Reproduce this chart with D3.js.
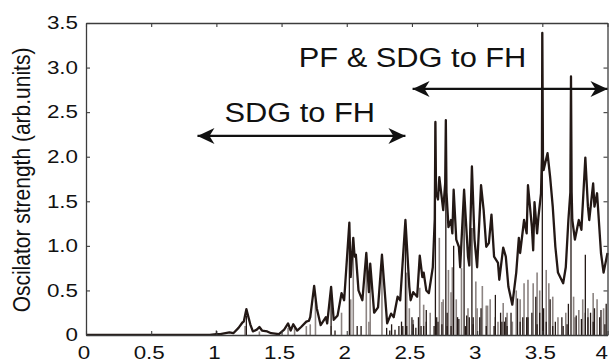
<!DOCTYPE html>
<html>
<head>
<meta charset="utf-8">
<script src="https://cdn.jsdelivr.net/npm/d3@7"></script>
<style>
  html, body { margin: 0; padding: 0; background: #fff; }
  svg { display: block; }
  text { font-family: "Liberation Sans", Arial, sans-serif; fill: #111; }
</style>
</head>
<body>
<svg id="chart" width="609" height="361"></svg>
<script>
// ---------------- data ----------------
const xTickValues = [0, 0.5, 1, 1.5, 2, 2.5, 3, 3.5, 4];
const xTickLabels = ["0", "0.5", "1", "1.5", "2", "2.5", "3", "3.5", "4"];
const yTickValues = [0, 0.5, 1, 1.5, 2, 2.5, 3, 3.5];
const yTickLabels = ["0", "0.5", "1.0", "1.5", "2.0", "2.5", "3.0", "3.5"];
const yAxisTitle = "Oscilator strength (arb.units)";
const annotationLow = "SDG to FH";
const annotationHigh = "PF & SDG to FH";

// broadened spectrum [energy, strength]
const broadened = [
  [0,0],[0.95,0],[1.0,0.01],[1.03,0.01],[1.10,0.03],[1.13,0.02],[1.17,0.08],[1.20,0.14],
  [1.21,0.15],[1.23,0.29],[1.26,0.12],[1.28,0.04],[1.31,0.06],[1.33,0.09],[1.35,0.05],
  [1.39,0.04],[1.42,0.02],[1.48,0.01],[1.52,0.06],[1.55,0.13],[1.57,0.05],[1.59,0.12],
  [1.62,0.05],[1.65,0.09],[1.69,0.15],[1.71,0.16],[1.72,0.2],[1.75,0.55],[1.77,0.3],
  [1.80,0.11],[1.84,0.2],[1.85,0.13],[1.88,0.54],[1.90,0.17],[1.93,0.22],[1.96,0.47],
  [1.98,0.39],[2.02,1.26],[2.03,0.65],[2.05,1.09],[2.06,0.88],[2.07,0.9],[2.09,0.5],
  [2.12,0.39],[2.15,0.92],[2.17,0.48],[2.18,0.8],[2.21,0.25],[2.24,0.31],[2.27,0.9],
  [2.31,0.13],[2.34,0.24],[2.36,0.2],[2.39,0.43],[2.41,0.39],[2.45,1.29],[2.48,0.54],
  [2.49,0.39],[2.51,0.48],[2.54,0.43],[2.56,0.89],[2.58,0.65],[2.59,0.7],[2.61,0.5],
  [2.63,0.47],[2.66,0.76],[2.675,1.3],[2.68,2.39],[2.685,1.6],[2.70,1.52],[2.71,1.77],
  [2.74,1.4],[2.755,1.7],[2.76,2.41],[2.765,1.6],[2.78,1.21],[2.80,1.29],[2.81,1.14],
  [2.82,1.63],[2.84,1.07],[2.86,0.99],[2.87,0.76],[2.90,1.63],[2.93,0.88],[2.94,0.78],
  [2.96,1.89],[2.98,1.07],[3.00,0.76],[3.03,1.68],[3.05,1.4],[3.07,0.99],[3.09,1.03],
  [3.11,1.35],[3.13,0.88],[3.16,0.81],[3.17,0.62],[3.20,0.98],[3.22,0.88],[3.24,0.54],
  [3.27,0.34],[3.30,0.7],[3.32,1.09],[3.33,0.92],[3.36,1.29],[3.38,1.14],[3.39,1.68],
  [3.42,1.21],[3.43,0.95],[3.44,1.49],[3.46,1.14],[3.47,1.32],[3.49,1.59],[3.497,2.0],
  [3.50,3.39],[3.505,2.0],[3.51,1.85],[3.54,2.04],[3.56,1.77],[3.58,1.44],[3.60,0.99],
  [3.62,0.7],[3.66,0.58],[3.68,0.76],[3.70,1.29],[3.715,1.6],[3.72,2.9],[3.725,1.6],
  [3.73,1.29],[3.75,1.07],[3.78,1.29],[3.80,1.18],[3.83,1.99],[3.85,1.44],[3.86,1.29],
  [3.89,1.7],[3.90,1.44],[3.92,1.59],[3.95,0.92],[3.97,0.7],[4.0,0.92]
];

// stick spectra [energy, strength]
const graySticks = [
  [1.22,0.1],[1.33,0.04],[1.55,0.08],[1.60,0.08],[1.69,0.1],[1.72,0.12],[1.76,0.39],
  [1.88,0.1],[1.96,0.25],[2.03,0.4],[2.05,1.05],[2.15,0.85],[2.17,0.15],[2.18,0.75],
  [2.27,0.85],[2.46,0.7],[2.48,0.3],[2.51,0.17],[2.56,0.53],[2.59,0.34],[2.64,0.25],
  [2.71,1.09],[2.73,0.37],[2.74,0.4],[2.78,0.73],[2.80,0.48],[2.81,0.76],[2.84,0.4],
  [2.88,0.75],[2.93,0.3],[2.99,0.6],[3.00,0.3],[3.04,0.55],[3.07,0.33],[3.08,0.33],
  [3.10,0.4],[3.16,0.15],[3.20,0.36],[3.23,0.25],[3.27,0.15],[3.30,0.5],[3.33,0.4],
  [3.36,0.58],[3.39,0.62],[3.43,0.58],[3.46,0.7],[3.48,0.5],[3.53,0.73],[3.55,0.58],
  [3.58,0.43],[3.62,0.2],[3.68,0.25],[3.74,0.43],[3.75,0.2],[3.78,0.28],[3.81,0.4],
  [3.85,0.3],[3.89,0.47],[3.92,0.4],[3.97,0.3]
];
const darkSticks = [
  [1.0,0.05],[1.23,0.22],[1.88,0.5],[1.91,0.05],[2.02,1.2],[2.08,0.1],[2.11,0.1],
  [2.33,0.05],[2.40,0.1],[2.43,0.1],[2.45,1.25],[2.50,0.2],[2.53,0.08],[2.57,0.1],
  [2.61,0.28],[2.67,0.1],[2.68,2.38],[2.70,0.15],[2.76,2.4],[2.77,0.1],[2.82,1.0],
  [2.85,0.2],[2.90,1.58],[2.91,0.1],[2.94,0.2],[2.96,1.2],[2.97,0.2],[3.03,0.3],
  [3.13,0.1],[3.14,0.45],[3.18,0.25],[3.21,0.15],[3.22,0.2],[3.31,0.41],[3.35,0.2],
  [3.38,0.2],[3.42,0.25],[3.45,0.43],[3.50,3.39],[3.51,0.3],[3.56,0.4],[3.60,0.15],
  [3.66,0.1],[3.70,0.35],[3.72,2.9],[3.83,0.9],[3.87,0.25],[3.90,0.3],[3.95,0.28],
  [3.99,0.35]
];
// short dark sticks crowding the baseline above 2.3
const baseSticks = [
  [2.306,0.08],[2.344,0.12],[2.37,0.06],[2.42,0.15],[2.46,0.1],[2.51,0.12],[2.55,0.2],
  [2.59,0.1],[2.61,0.15],[2.69,0.2],[2.73,0.12],[2.77,0.25],[2.80,0.1],[2.86,0.18],
  [2.92,0.22],[2.97,0.12],[3.02,0.2],[3.07,0.1],[3.14,0.2],[3.19,0.15],[3.23,0.1],
  [3.26,0.25],[3.33,0.15],[3.39,0.2],[3.46,0.12],[3.48,0.25],[3.53,0.15],[3.58,0.1],
  [3.65,0.2],[3.69,0.12],[3.76,0.22],[3.80,0.18],[3.83,0.25],[3.85,0.2],[3.89,0.15],
  [3.94,0.2],[3.98,0.12]
];

// ---------------- drawing ----------------
const W = 609, H = 361;
const mLeft = 86, mRight = 607.5, mTop = 23, mBottom = 335;
const svg = d3.select("#chart");

const x = d3.scaleLinear().domain([0, 4]).range([mLeft, mRight]);
const y = d3.scaleLinear().domain([0, 3.5]).range([mBottom, mTop]);

const ink = "#231815";
const grayInk = "#8c8482";
const frame = "#3c3c3c";

const defs = svg.append("defs");
defs.append("clipPath").attr("id", "plotClip")
  .append("rect").attr("x", mLeft).attr("y", 0).attr("width", W - mLeft).attr("height", mBottom);

const plot = svg.append("g").attr("clip-path", "url(#plotClip)");

plot.append("g").selectAll("line").data(graySticks).join("line")
  .attr("x1", d => x(d[0])).attr("x2", d => x(d[0]))
  .attr("y1", y(0)).attr("y2", d => y(d[1]))
  .attr("stroke", grayInk).attr("stroke-width", 1.6);

plot.append("g").selectAll("line").data(darkSticks.concat(baseSticks)).join("line")
  .attr("x1", d => x(d[0])).attr("x2", d => x(d[0]))
  .attr("y1", y(0)).attr("y2", d => y(d[1]))
  .attr("stroke", ink).attr("stroke-width", 1.3);

plot.append("path").datum(broadened)
  .attr("d", d3.line().x(d => x(d[0])).y(d => y(d[1])))
  .attr("fill", "none").attr("stroke", ink).attr("stroke-width", 2.3)
  .attr("stroke-linejoin", "round");

// axes (inward ticks, boxed)
const tickLen = 4;
const axB = svg.append("g").attr("transform", `translate(0,${mBottom})`)
  .call(d3.axisBottom(x).tickValues(xTickValues).tickSizeInner(-tickLen).tickSizeOuter(0).tickFormat(""));
const axT = svg.append("g").attr("transform", `translate(0,${mTop})`)
  .call(d3.axisTop(x).tickValues(xTickValues).tickSizeInner(-tickLen).tickSizeOuter(0).tickFormat(""));
const axL = svg.append("g").attr("transform", `translate(${mLeft},0)`)
  .call(d3.axisLeft(y).tickValues(yTickValues).tickSizeInner(-tickLen).tickSizeOuter(0).tickFormat(""));
const axR = svg.append("g").attr("transform", `translate(${mRight},0)`)
  .call(d3.axisRight(y).tickValues(yTickValues).tickSizeInner(-tickLen).tickSizeOuter(0).tickFormat(""));
[axB, axT, axL, axR].forEach(g => {
  g.selectAll("path.domain").attr("stroke", frame).attr("stroke-width", 1.3);
  g.selectAll(".tick line").attr("stroke", frame).attr("stroke-width", 1.1);
});

// tick labels (source image is horizontally stretched)
const sx = 1.28;
const lastX = xTickValues.length - 1;
svg.append("g").selectAll("text").data(xTickValues).join("text")
  .attr("transform", (d, i) => i === lastX
    ? `translate(${W - 1},359) scale(${sx},1)`
    : `translate(${x(d) - 2},359) scale(${sx},1)`)
  .attr("text-anchor", (d, i) => i === lastX ? "end" : "middle")
  .attr("font-size", 17.5)
  .text((d, i) => xTickLabels[i]);

svg.append("g").selectAll("text").data(yTickValues).join("text")
  .attr("transform", d => `translate(78,${y(d)}) scale(${sx},1)`)
  .attr("text-anchor", "end").attr("dy", "0.36em").attr("font-size", 17.5)
  .text((d, i) => yTickLabels[i]);

svg.append("text")
  .attr("transform", `translate(30,180) scale(1.13,1) rotate(-90)`)
  .attr("text-anchor", "middle").attr("font-size", 21)
  .text(yAxisTitle);

// annotations
defs.append("marker").attr("id", "ahead")
  .attr("viewBox", "-18 -9 20 18").attr("refX", 0).attr("refY", 0)
  .attr("markerUnits", "userSpaceOnUse").attr("markerWidth", 20).attr("markerHeight", 18)
  .attr("orient", "auto-start-reverse")
  .append("path").attr("d", "M0,0 L-17,-8 L-12,0 L-17,8 Z").attr("fill", "#111");

function arrow(x0, x1, yv) {
  svg.append("line")
    .attr("x1", x(x0)).attr("x2", x(x1)).attr("y1", y(yv)).attr("y2", y(yv))
    .attr("stroke", "#111").attr("stroke-width", 2.2)
    .attr("marker-start", "url(#ahead)").attr("marker-end", "url(#ahead)");
}
arrow(0.855, 2.45, 2.233);
arrow(2.505, 4.0, 2.76);

svg.append("text")
  .attr("transform", `translate(${x(1.64)},${y(2.39)}) scale(1.1,1)`)
  .attr("text-anchor", "middle").attr("font-size", 28)
  .text(annotationLow);
svg.append("text")
  .attr("transform", `translate(${x(2.505)},${y(3.01)}) scale(1.1,1)`)
  .attr("text-anchor", "middle").attr("font-size", 28)
  .text(annotationHigh);
</script>
</body>
</html>
